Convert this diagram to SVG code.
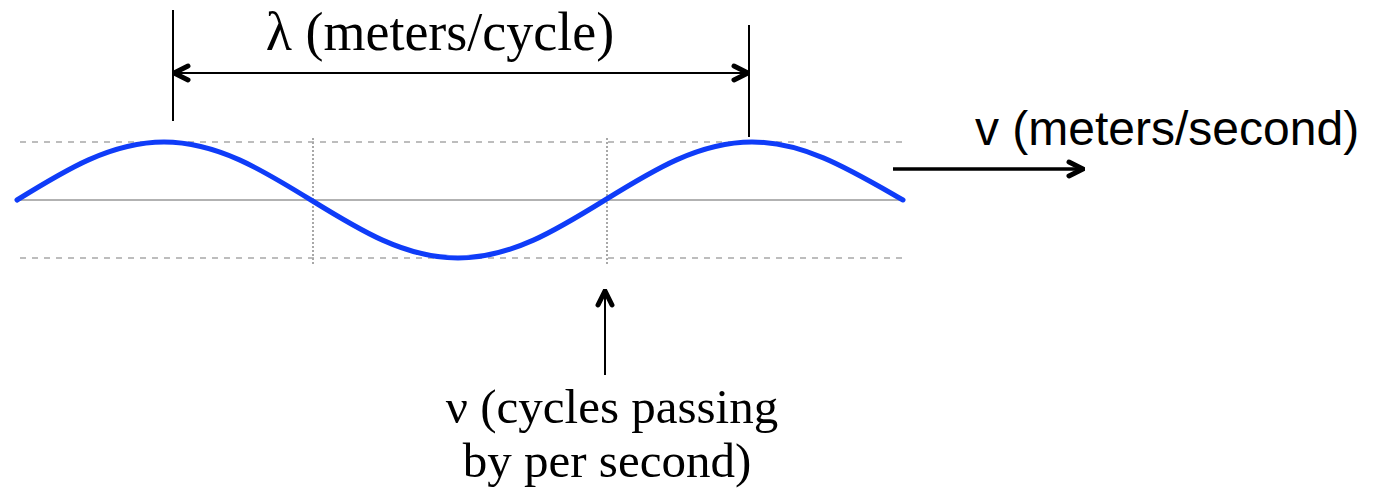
<svg xmlns="http://www.w3.org/2000/svg" width="1384" height="492" viewBox="0 0 1384 492">
<style>
.grid{stroke:#a8a8a8;stroke-width:1.5;fill:none;stroke-dasharray:6 6}
.vgrid{stroke:#a8a8a8;stroke-width:2;fill:none;stroke-dasharray:2 2}
.axis{stroke:#999;stroke-width:1.5;fill:none}
.blk{stroke:#000;stroke-width:2;fill:none}
.arr{stroke:#000;stroke-width:3.5;fill:none}
.serif{font-family:"Liberation Serif","DejaVu Serif","Times New Roman",serif;fill:#000}
.sans{font-family:"Liberation Sans",Arial,sans-serif;font-size:48px;fill:#000}
</style>
<defs>
<marker id="ah" viewBox="0 0 20 20" refX="18" refY="10" markerWidth="20" markerHeight="20" markerUnits="userSpaceOnUse" orient="auto-start-reverse">
<path d="M4,3 L18,10 L4,17" fill="none" stroke="#000" stroke-width="5" stroke-linecap="round" stroke-linejoin="miter"/>
</marker>
</defs>
<g id="grid">
<line class="grid" x1="20" y1="142" x2="905" y2="142"/>
<line class="grid" x1="20" y1="258" x2="905" y2="258"/>
<line class="vgrid" x1="313" y1="138" x2="313" y2="265"/>
<line class="vgrid" x1="607" y1="138" x2="607" y2="265"/>
<line class="axis" x1="17" y1="200" x2="905" y2="200"/>
</g>
<g id="wave">
<path d="M17,200 C65,170.3 110.8,142 164,142 C217.2,142 263,170.3 311,200 C359,229.7 404.8,258 458,258 C511.2,258 557,229.7 605,200 C653,170.3 698.8,142 752,142 C805.2,142 851,170.3 903,200" fill="none" stroke="#0f3cf8" stroke-width="5" stroke-linecap="round"/>
</g>
<g id="connectors">
<line class="blk" x1="173" y1="10" x2="173" y2="121"/>
<line class="blk" x1="749" y1="25" x2="749" y2="137"/>
<line class="blk" x1="174" y1="73" x2="748" y2="73" marker-start="url(#ah)" marker-end="url(#ah)"/>
<line class="arr" x1="893" y1="169" x2="1083" y2="169" marker-end="url(#ah)"/>
<line class="blk" x1="605" y1="375" x2="605" y2="291" marker-end="url(#ah)"/>
</g>
<g id="label-lambda">
<text class="serif" x="440" y="50" font-size="54" text-anchor="middle">λ (meters/cycle)</text>
</g>
<g id="label-v">
<text class="sans" x="975" y="145">v (meters/second)</text>
</g>
<g id="label-nu">
<text class="serif" font-size="49" text-anchor="middle"><tspan x="612" y="423">ν (cycles passing</tspan><tspan x="607" y="477">by per second)</tspan></text>
</g>
</svg>
